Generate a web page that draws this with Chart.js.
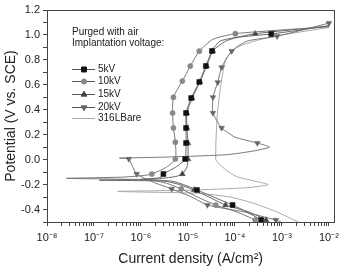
<!DOCTYPE html>
<html>
<head>
    <style>
        html, body { margin: 0; padding: 0; background: #fff; }
        #wrap { width: 344px; height: 269px; position: relative; }
    </style>
    <script src="https://cdn.jsdelivr.net/npm/chart.js"></script>
</head>
<body>
    <div id="wrap"><canvas id="tafel"></canvas></div>
    <script>
        // potential (V vs. SCE) and current density (A/cm2) for each scan
        const e5kV = [-0.50, -0.484, -0.42, -0.364, -0.30, -0.243, -0.20, -0.172, -0.158, -0.148, -0.135, -0.115, -0.06, 0.005, 0.133, 0.254, 0.374, 0.494, 0.623, 0.751, 0.871, 0.95, 0.98, 1.008, 1.04, 1.075];
        const i5kV = [4.0e-4, 3.6e-4, 1.8e-4, 8.9e-5, 3.5e-5, 1.55e-5, 8e-6, 4.5e-6, 1.0e-6, 2.2e-6, 2.8e-6, 3.0e-6, 5.5e-6, 8.7e-6, 9.1e-6, 9.1e-6, 9.1e-6, 1.17e-5, 1.74e-5, 2.4e-5, 3.24e-5, 4.8e-5, 1.07e-4, 5.9e-4, 2.5e-3, 1.0e-2];
        const mk5kV = [1, 3, 5, 11, 13, 14, 15, 16, 17, 18, 19, 20, 23];

        const e10kV = [-0.50, -0.484, -0.42, -0.364, -0.30, -0.235, -0.19, -0.162, -0.150, -0.140, -0.128, -0.115, -0.06, 0.005, 0.14, 0.254, 0.374, 0.50, 0.63, 0.75, 0.87, 0.965, 1.01, 1.04, 1.065];
        const i10kV = [3.0e-4, 2.7e-4, 1.1e-4, 3.9e-5, 1.6e-5, 7.2e-6, 3.5e-6, 1.5e-6, 2.6e-8, 4e-7, 1.1e-6, 1.7e-6, 3.5e-6, 5.4e-6, 5.4e-6, 4.9e-6, 4.7e-6, 4.9e-6, 7.6e-6, 1.12e-5, 1.74e-5, 3.4e-5, 1.02e-4, 1e-3, 1.0e-2];
        const mk10kV = [1, 3, 5, 11, 13, 14, 15, 16, 17, 18, 19, 20, 22];

        const e15kV = [-0.50, -0.484, -0.42, -0.364, -0.30, -0.243, -0.195, -0.172, -0.165, -0.155, -0.135, -0.115, -0.06, 0.005, 0.133, 0.254, 0.374, 0.494, 0.623, 0.751, 0.871, 0.95, 0.99, 1.01, 1.04, 1.07];
        const i15kV = [5.0e-4, 4.6e-4, 2.0e-4, 6.3e-5, 2.8e-5, 1.35e-5, 6e-6, 3e-6, 1.3e-7, 2.0e-6, 5.5e-6, 7.6e-6, 9.5e-6, 1.0e-5, 1.0e-5, 9.5e-6, 9.5e-6, 1.23e-5, 1.8e-5, 2.5e-5, 3.4e-5, 6.3e-5, 1.4e-4, 2.7e-4, 1.5e-3, 1.0e-2];
        const mk15kV = [1, 3, 5, 11, 13, 14, 15, 16, 17, 18, 19, 20, 23];

        const e20kV = [-0.50, -0.484, -0.42, -0.364, -0.30, -0.235, -0.18, -0.115, -0.05, 0.005, 0.012, 0.02, 0.04, 0.07, 0.10, 0.133, 0.18, 0.22, 0.254, 0.374, 0.50, 0.62, 0.74, 0.87, 0.95, 0.99, 1.095];
        const i20kV = [9.5e-4, 7.4e-4, 1.6e-4, 2.6e-5, 1.2e-5, 4.5e-6, 1.8e-6, 8.1e-7, 6.5e-7, 5.5e-7, 3.5e-7, 3e-6, 6.9e-5, 2.5e-4, 5.4e-4, 3.0e-4, 1.0e-4, 6.9e-5, 5.2e-5, 3.4e-5, 3.4e-5, 4.3e-5, 5.2e-5, 8.5e-5, 1.8e-4, 7.9e-4, 1.0e-2];
        const mk20kV = [1, 3, 5, 7, 9, 15, 18, 19, 20, 21, 22, 23, 25, 26];

        const e316L = [-0.50, -0.42, -0.35, -0.30, -0.27, -0.255, -0.245, -0.225, -0.20, -0.17, -0.135, -0.08, -0.04, 0.0, 0.4, 0.8, 0.9, 0.96, 1.0, 1.06];
        const i316L = [2.2e-3, 7.9e-4, 2.5e-4, 7.9e-5, 1.6e-5, 3.2e-7, 1e-5, 1.8e-4, 5.1e-4, 2.5e-4, 1.07e-4, 6.3e-5, 4.8e-5, 3.9e-5, 4.3e-5, 6.3e-5, 1.1e-4, 3.2e-4, 1e-3, 1e-2];

        const seriesNames = ['5kV', '10kV', '15kV', '20kV', '316LBare'];
        const headerLines = ['Purged with air', 'Implantation voltage:'];

        const FONT = '"Liberation Sans", Arial, sans-serif';
        Chart.defaults.font.family = FONT;
        Chart.defaults.color = '#222';

        const styles = [
            { line: '#666', fill: '#111', pointStyle: 'rect', radius: 3.5, rotation: 0 },
            { line: '#777', fill: '#888', pointStyle: 'circle', radius: 2.6, rotation: 0 },
            { line: '#666', fill: '#444', pointStyle: 'triangle', radius: 3.3, rotation: 0 },
            { line: '#777', fill: '#666', pointStyle: 'triangle', radius: 3.3, rotation: 180 },
            { line: '#aaa', fill: '#aaa', pointStyle: false, radius: 0, rotation: 0 }
        ];

        function pts(e, i) {
            return e.map((v, k) => ({ x: i[k], y: v }));
        }

        const raw = [
            [e5kV, i5kV, mk5kV],
            [e10kV, i10kV, mk10kV],
            [e15kV, i15kV, mk15kV],
            [e20kV, i20kV, mk20kV],
            [e316L, i316L, []]
        ];

        const datasets = raw.map((r, k) => {
            const st = styles[k];
            return {
                label: seriesNames[k],
                data: pts(r[0], r[1]),
                showLine: true,
                borderColor: st.line,
                borderWidth: 1,
                tension: 0.2,
                pointStyle: st.pointStyle,
                pointRotation: st.rotation,
                pointBackgroundColor: st.fill,
                pointBorderColor: st.fill,
                pointBorderWidth: 0.5,
                pointRadius: ctx => r[2].includes(ctx.dataIndex) ? st.radius : 0,
                pointHoverRadius: 0
            };
        });

        // log ticks: decades plus minors
        const xMin = 1e-8, xMax = 1.3e-2;
        const xTicks = [];
        for (let p = -8; p <= -2; p++) {
            for (let m = 1; m <= 9; m++) {
                const v = m * Math.pow(10, p);
                if (v <= xMax * 1.0001) xTicks.push(v);
            }
        }
        const sup = { '-': '\u207B', '0': '\u2070', '1': '\u00B9', '2': '\u00B2', '3': '\u00B3', '4': '\u2074', '5': '\u2075', '6': '\u2076', '7': '\u2077', '8': '\u2078', '9': '\u2079' };
        function decadeLabel(v) {
            const l = Math.log10(v);
            if (Math.abs(l - Math.round(l)) > 1e-6) return '';
            return '10' + String(Math.round(l)).split('').map(c => sup[c]).join('');
        }

        const framePlugin = {
            id: 'frame',
            afterDraw(chart) {
                const a = chart.chartArea, ctx = chart.ctx;
                ctx.save();
                ctx.strokeStyle = '#444';
                ctx.lineWidth = 1;
                ctx.strokeRect(Math.round(a.left) + 0.5, Math.round(a.top) + 0.5, Math.round(a.right - a.left), Math.round(a.bottom - a.top));
                ctx.restore();
            }
        };

        const legendPlugin = {
            id: 'sideLegend',
            afterDraw(chart) {
                const ctx = chart.ctx;
                ctx.save();
                ctx.font = '10px ' + FONT;
                ctx.fillStyle = '#222';
                ctx.textBaseline = 'middle';
                ctx.fillText(headerLines[0], 72, 32);
                ctx.fillText(headerLines[1], 72, 43);
                const rowsY = [69, 81, 94, 107, 118];
                seriesNames.forEach((name, k) => {
                    const st = styles[k], y = rowsY[k];
                    ctx.strokeStyle = k === 4 ? '#aaa' : '#555';
                    ctx.lineWidth = 1;
                    ctx.beginPath();
                    ctx.moveTo(72, y + 0.5);
                    ctx.lineTo(95, y + 0.5);
                    ctx.stroke();
                    if (st.pointStyle) {
                        ctx.fillStyle = st.fill;
                        ctx.strokeStyle = st.fill;
                        Chart.helpers.drawPoint(ctx, { pointStyle: st.pointStyle, radius: st.radius, rotation: st.rotation, borderWidth: 0.5 }, 84, y + 0.5);
                    }
                    ctx.fillStyle = '#222';
                    ctx.fillText(name, 98, y + 0.5);
                });
                ctx.restore();
            }
        };

        new Chart(document.getElementById('tafel'), {
            type: 'scatter',
            data: { datasets: datasets },
            plugins: [framePlugin, legendPlugin],
            options: {
                responsive: true,
                maintainAspectRatio: false,
                animation: false,
                layout: { padding: { top: 10, right: 6, left: 0, bottom: 0 } },
                plugins: { legend: { display: false }, tooltip: { enabled: false } },
                scales: {
                    x: {
                        type: 'logarithmic',
                        min: xMin,
                        max: xMax,
                        afterBuildTicks: s => { s.ticks = xTicks.map(v => ({ value: v })); },
                        afterFit: s => { s.height = 47; },
                        border: { display: true, color: '#444' },
                        grid: { drawOnChartArea: false, tickLength: 4, color: '#444' },
                        ticks: {
                            autoSkip: false,
                            maxRotation: 0,
                            padding: 5,
                            font: { size: 11 },
                            color: '#222',
                            callback: v => decadeLabel(v)
                        },
                        title: {
                            display: true,
                            text: 'Current density (A/cm\u00B2)',
                            font: { size: 14 },
                            color: '#222',
                            padding: { top: 0, bottom: 1 }
                        }
                    },
                    y: {
                        min: -0.5,
                        max: 1.2,
                        afterFit: s => { s.width = 47; },
                        border: { display: true, color: '#444' },
                        grid: { drawOnChartArea: false, tickLength: 4, color: '#444' },
                        ticks: {
                            stepSize: 0.1,
                            autoSkip: false,
                            padding: 3,
                            font: { size: 11 },
                            color: '#222',
                            callback: v => {
                                const n = Math.round(v * 10);
                                return n % 2 === 0 ? (n / 10).toFixed(1) : '';
                            }
                        },
                        title: {
                            display: true,
                            text: 'Potential (V vs. SCE)',
                            font: { size: 14 },
                            color: '#222',
                            padding: { top: 3, bottom: 0 }
                        }
                    }
                }
            }
        });
    </script>
</body>
</html>
